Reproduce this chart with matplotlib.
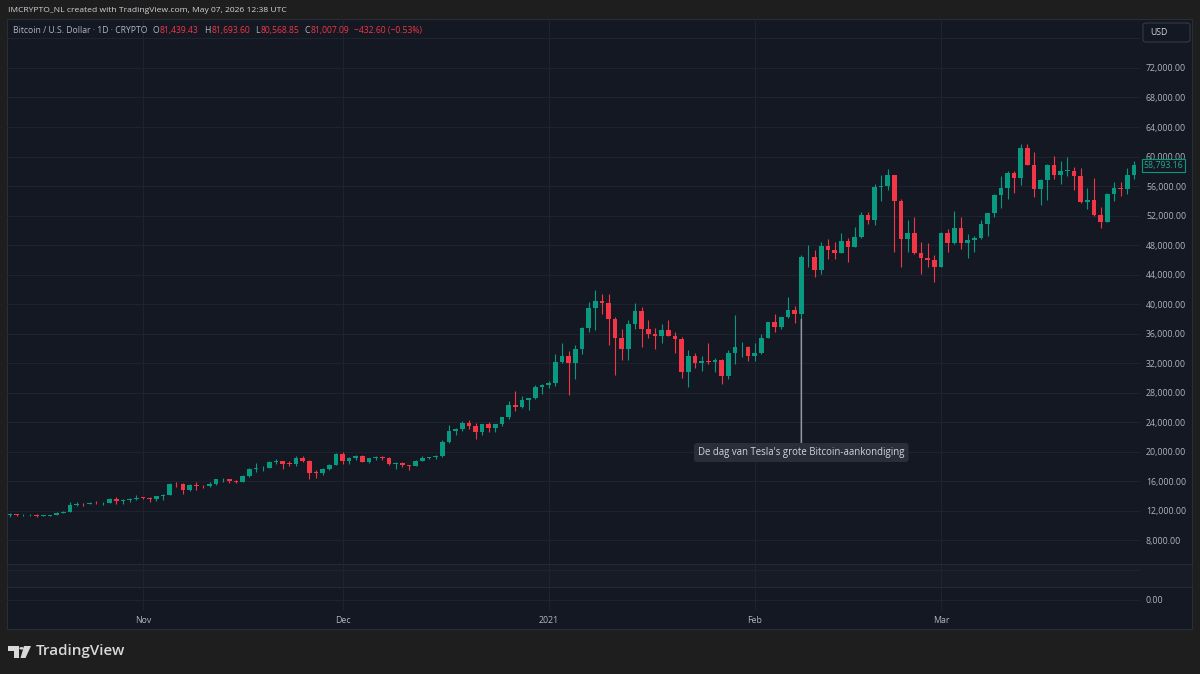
import numpy as np
import pandas as pd
import matplotlib
matplotlib.use("Agg")
import matplotlib.pyplot as plt
import matplotlib.dates as mdates
from matplotlib.patches import Rectangle, FancyBboxPatch, Polygon, Circle
from matplotlib.transforms import IdentityTransform

# BTC/USD daily candles, 12 Oct 2020 - 30 Mar 2021
dates = pd.date_range("2020-10-12", "2021-03-30", freq="D")

opens = [
    11380, 11540, 11430, 11430, 11500, 11320, 11370, 11500, 11750, 11920,
    12820, 12980, 12930, 13120, 13040, 13070, 13650, 13280, 13460, 13560,
    13800, 13760, 13560, 14030, 14150, 15590, 15580, 14840, 15480, 15330,
    15310, 15700, 16290, 16330, 16070, 15960, 16730, 17660, 17790, 17820,
    18680, 18720, 18420, 18370, 19160, 18730, 17150, 17140, 17720, 18180,
    19700, 18790, 19220, 19440, 18650, 19150, 19360, 19170, 18320, 18550,
    18250, 18030, 18800, 19170, 19270, 19440, 21350, 22800, 23120, 23850,
    23470, 22720, 23810, 23230, 23730, 24710, 26350, 26050, 27000, 27250,
    28850, 28990, 29300, 32150, 33000, 31990, 33950, 36800, 39450, 40450,
    40150, 38050, 35400, 33900, 37300, 39050, 36700, 35900, 35750, 36550,
    35750, 35350, 30750, 33000, 32100, 32250, 32200, 32450, 30250, 33400,
    34200, 34250, 32950, 33350, 35450, 37600, 36850, 38250, 39150, 38700,
    46350, 46450, 44650, 47900, 47350, 47000, 48550, 47800, 49050, 52100,
    51400, 55850, 56000, 57500, 54000, 48800, 49700, 46900, 46200, 46050,
    45100, 49600, 48300, 50300, 48250, 48700, 48900, 50850, 52400, 54800,
    55800, 57750, 57050, 61150, 58900, 55550, 56850, 58850, 57500, 58050,
    58100, 57350, 53900, 54150, 52100, 51200, 54950, 55750, 55650, 57550,
]
highs = [
    11720, 11550, 11550, 11630, 11540, 11400, 11490, 11800, 12000, 13220,
    13180, 13030, 13160, 13340, 13240, 13790, 13860, 13650, 13690, 14100,
    13900, 13830, 14070, 14260, 15770, 15970, 15770, 15660, 15850, 15480,
    15960, 16350, 16480, 16330, 16150, 16880, 17860, 18480, 18150, 18800,
    18970, 18740, 18770, 19420, 19480, 18900, 17490, 17880, 18330, 19860,
    19920, 19310, 19600, 19520, 19170, 19420, 19410, 19290, 18640, 18560,
    18270, 18950, 19410, 19340, 19560, 21550, 23700, 23280, 24170, 24300,
    23860, 23830, 24100, 23780, 24780, 26870, 28300, 27500, 27350, 28990,
    29250, 29600, 33300, 34800, 33600, 34440, 36950, 40350, 41950, 41350,
    41400, 38300, 36600, 37800, 40100, 39650, 37900, 36750, 37300, 37850,
    36300, 35600, 33800, 33450, 32950, 34800, 32750, 32550, 33800, 38500,
    34900, 34300, 34700, 35900, 37650, 38700, 38300, 40950, 39700, 46700,
    48050, 47300, 48400, 48850, 48400, 49600, 49000, 50450, 52450, 52450,
    56300, 57500, 58250, 57550, 54200, 51400, 51800, 48450, 48350, 46650,
    49800, 50200, 52600, 51800, 49450, 49200, 51450, 52400, 54900, 57350,
    58100, 58050, 61700, 61650, 60550, 56900, 58950, 60050, 59400, 59900,
    58600, 58400, 55700, 57150, 53200, 55100, 56600, 56600, 58400, 59400,
]
lows = [
    11230, 11300, 11280, 11260, 11220, 11290, 11350, 11420, 11680, 11900,
    12720, 12730, 12890, 12910, 12790, 13060, 12960, 12990, 13140, 13430,
    13640, 13220, 13300, 13530, 14100, 15200, 14350, 14720, 14810, 15100,
    15280, 15450, 15970, 15720, 15780, 15870, 16560, 17220, 17360, 17770,
    18380, 17640, 18050, 18020, 18590, 16300, 16450, 16870, 17540, 18180,
    18330, 18330, 18900, 18580, 18510, 18920, 18900, 18220, 17650, 17910,
    17570, 18020, 18710, 19000, 19060, 19290, 21250, 22350, 22800, 23100,
    21750, 22350, 22700, 22720, 23450, 24500, 25600, 25900, 25650, 27200,
    27800, 28700, 28950, 32000, 27700, 29900, 33300, 36300, 36500, 38700,
    34450, 30400, 32500, 32500, 36700, 34250, 35400, 33900, 34800, 35700,
    33400, 30000, 28850, 31400, 30900, 31900, 30800, 29150, 29900, 31950,
    32850, 32300, 32350, 33300, 35400, 36200, 36600, 38150, 37400, 37950,
    45050, 43750, 44050, 46150, 46150, 46900, 45750, 47700, 48900, 50850,
    50700, 54000, 55500, 47100, 45000, 47050, 46800, 44100, 45000, 42950,
    45000, 47050, 48150, 47500, 46300, 47100, 48850, 49300, 51850, 53050,
    54300, 55100, 56150, 58800, 54500, 53400, 54150, 57000, 56300, 57350,
    55500, 53700, 52900, 52000, 50300, 51100, 53950, 54700, 54900, 57000,
]
closes = [
    11540, 11430, 11430, 11500, 11320, 11370, 11500, 11750, 11920, 12820,
    12980, 12930, 13120, 13040, 13070, 13650, 13280, 13460, 13560, 13800,
    13760, 13560, 14030, 14150, 15590, 15580, 14840, 15480, 15330, 15310,
    15700, 16290, 16330, 16070, 15960, 16730, 17660, 17790, 17820, 18680,
    18720, 18420, 18370, 19160, 18730, 17150, 17140, 17720, 18180, 19700,
    18790, 19220, 19440, 18650, 19150, 19360, 19170, 18320, 18550, 18250,
    18030, 18800, 19170, 19270, 19440, 21350, 22800, 23120, 23850, 23470,
    22720, 23810, 23230, 23730, 24710, 26350, 26050, 27000, 27250, 28850,
    28990, 29300, 32150, 33000, 31990, 33950, 36800, 39450, 40450, 40150,
    38050, 35400, 33900, 37300, 39050, 36700, 35900, 35750, 36550, 35750,
    35350, 30750, 33000, 32100, 32250, 32200, 32450, 30250, 33400, 34200,
    34250, 32950, 33350, 35450, 37600, 36850, 38250, 39150, 38700, 46350,
    46450, 44650, 47900, 47350, 47000, 48550, 47800, 49050, 52100, 51400,
    55850, 56000, 57500, 54000, 48800, 49700, 46900, 46200, 46050, 45100,
    49600, 48300, 50300, 48250, 48700, 48900, 50850, 52400, 54800, 55800,
    57750, 57050, 61150, 58900, 55550, 56850, 58850, 57500, 58050, 58100,
    57350, 53900, 54150, 52100, 51200, 54950, 55750, 55650, 57550, 58793.16,
]

month_ticks = pd.to_datetime(["2020-11-01", "2020-12-01", "2021-01-01", "2021-02-01", "2021-03-01"])
month_labels = ["Nov", "Dec", "2021", "Feb", "Mar"]
price_levels = list(range(0, 80000, 4000))
price_labelled = [0] + list(range(8000, 76000, 4000))

header_text = "IMCRYPTO_NL created with TradingView.com, May 07, 2026 12:38 UTC"
legend_name = "Bitcoin / U.S. Dollar · 1D · CRYPTO"
legend_fields = [("O", "81,439.43"), ("H", "81,693.60"), ("L", "80,568.85"), ("C", "81,007.09")]
legend_change = "\u2212432.60 (\u22120.53%)"

tesla_date = pd.Timestamp("2021-02-08")
tesla_text = "De dag van Tesla's grote Bitcoin-aankondiging"

# colours
UP = "#089981"
DOWN = "#f23645"
PANEL = "#141823"
OUTER = "#1e1e1e"
TEXT = "#b2b5be"
GRID = "#1f2330"

W, H = 1200, 674
FONT = ["Open Sans", "DejaVu Sans"]
plt.rcParams["font.family"] = FONT


def fx(px):
    return px / W


def fy(py):
    return 1 - py / H


fig = plt.figure(figsize=(W / 100, H / 100), dpi=100, facecolor=OUTER)

# panel background + separator band
fig.add_artist(Rectangle((fx(7), fy(629)), (1192 - 7) / W, (629 - 19) / H,
                         transform=fig.transFigure, fc=PANEL, ec="#2a2e39", lw=0.8, zorder=-2))
fig.add_artist(Rectangle((fx(7), fy(587)), (1192 - 7) / W, (587 - 564) / H,
                         transform=fig.transFigure, fc="#171b26", ec="#262a35", lw=0.8, zorder=-1))

# chart area: 7..1140 px wide, 19..610 px tall
ax = fig.add_axes([fx(7), fy(610), (1140 - 7) / W, (610 - 19) / H])
ax.patch.set_facecolor("none")

# scale: 0 at y=599.5px, 4000 per 29.53px
ppu = 29.53 / 4000
ax.set_ylim(-(610 - 599.5) / ppu, (599.5 - 19) / ppu)
nov1 = mdates.date2num(pd.Timestamp("2020-11-01"))
ax.set_xlim(nov1 - (143 - 7) / 6.65, nov1 + (1140 - 143) / 6.65)

x = mdates.date2num(dates)
o = np.array(opens, dtype=float)
h = np.array(highs, dtype=float)
l = np.array(lows, dtype=float)
c = np.array(closes, dtype=float)
colors = np.where(c >= o, UP, DOWN)

ax.vlines(x, l, h, colors=colors, lw=0.8, zorder=2)
body_bottom = np.minimum(o, c)
body_height = np.maximum(np.abs(c - o), 70)
ax.bar(x, body_height, bottom=body_bottom, width=0.7, color=colors, lw=0, zorder=3)

# axes / grid
for s in ax.spines.values():
    s.set_visible(False)
ax.set_axisbelow(True)
ax.set_xticks(mdates.date2num(month_ticks))
ax.set_xticklabels(month_labels)
ax.yaxis.tick_right()
ax.set_yticks(price_levels)
ax.set_yticklabels([f"{v:,.2f}" if v in price_labelled else "" for v in price_levels])
ax.grid(True, color=GRID, lw=0.8)
ax.tick_params(axis="both", length=0, colors=TEXT, labelsize=6.3)
ax.tick_params(axis="x", pad=4.6)
ax.tick_params(axis="y", pad=4.3)

# Tesla annotation
ti = list(dates).index(tesla_date)
ax.annotate(tesla_text, xy=(mdates.date2num(tesla_date), lows[ti]),
            xytext=(mdates.date2num(tesla_date), (599.5 - 452.5) / ppu),
            ha="center", va="center", fontsize=6.9, color="#d1d4dc",
            bbox=dict(boxstyle="round,pad=0.42,rounding_size=0.3", fc="#2a2e39", ec="none"),
            arrowprops=dict(arrowstyle="-", color="#9598a1", lw=1.1, shrinkA=0, shrinkB=0),
            zorder=5)

# last price label
ax.annotate(f"{closes[-1]:,.2f}", xy=(1, closes[-1]), xycoords=("axes fraction", "data"),
            xytext=(3.5, 0), textcoords="offset pixels", ha="left", va="center",
            fontsize=6.3, color="#22ab94", annotation_clip=False,
            bbox=dict(boxstyle="square,pad=0.2", fc=PANEL, ec=UP, lw=0.8))

# USD box
fig.add_artist(FancyBboxPatch((fx(1143), fy(42)), 47 / W, 19 / H,
                              boxstyle="round,pad=0,rounding_size=0.003",
                              transform=fig.transFigure, fc=PANEL, ec="#363a45", lw=0.8))
fig.text(fx(1150), fy(32.5), "USD", ha="left", va="center", fontsize=6.2, color="#d1d4dc")

# header
fig.text(fx(8), fy(10), header_text, ha="left", va="center", fontsize=6.1, color="#d1d4dc")

# legend line, pieces placed one after another on a common baseline (pixel coords)
pieces = [(legend_name, TEXT, 0)]
for key, val in legend_fields:
    pieces.append((key, TEXT, 5))
    pieces.append((val, DOWN, 1))
pieces.append((legend_change, DOWN, 5))

fig.canvas.draw()
renderer = fig.canvas.get_renderer()
xpos = 13
baseline = H - 33
for s, col, gap in pieces:
    t = fig.text(xpos + gap, baseline, s, ha="left", va="baseline", fontsize=6.2, color=col,
                 transform=IdentityTransform())
    xpos = t.get_window_extent(renderer).x1

# TradingView logo
logo = "#d9d9d9"
fig.add_artist(Polygon([(fx(8), fy(646)), (fx(18.5), fy(646)), (fx(18.5), fy(658)),
                        (fx(14), fy(658)), (fx(14), fy(650.5)), (fx(8), fy(650.5))],
                       closed=True, transform=fig.transFigure, fc=logo, ec="none"))
fig.add_artist(Circle((fx(21.5), fy(648.3)), 2.2 / W, transform=fig.transFigure, fc=logo, ec="none"))
fig.add_artist(Polygon([(fx(24), fy(646)), (fx(31), fy(646)), (fx(25.5), fy(658)), (fx(20.5), fy(658))],
                       closed=True, transform=fig.transFigure, fc=logo, ec="none"))
fig.text(fx(36), fy(651.5), "TradingView", ha="left", va="center", fontsize=10.9,
         fontweight="semibold", color=logo)

fig.savefig("out.png", dpi=100, facecolor=OUTER)
